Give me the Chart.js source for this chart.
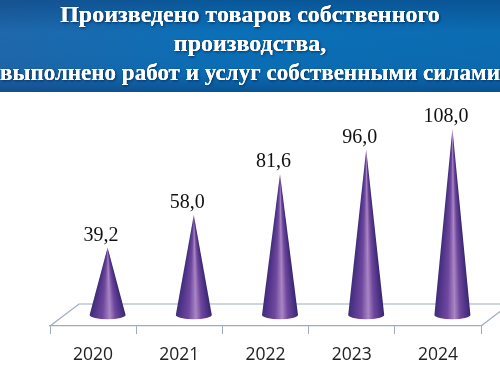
<!DOCTYPE html>
<html><head><meta charset="utf-8">
<style>html,body{margin:0;padding:0;background:#fff}#w{width:500px;height:377px;position:relative}</style>
<script src="https://cdn.jsdelivr.net/npm/chart.js@4"></script></head>
<body><div id="w"><canvas id="c" width="500" height="377"></canvas></div>
<script>
const categories = ['2020','2021','2022','2023','2024'];
const values = [39.2,58.0,81.6,96.0,108.0];
const valueLabels = ['39,2','58,0','81,6','96,0','108,0'];
const titleLines = ['Произведено товаров собственного','производства,','выполнено работ и услуг собственными силами'];

const depthX = 14.5, depthY = 11, floorDepthX = 29, floorDepthY = 22;
const floorColor = '#9eabbd';

function coneGradient(ctx,cx,r){
  const g = ctx.createLinearGradient(cx-r,0,cx+r,0);
  g.addColorStop(0,'#3f2d78'); g.addColorStop(.14,'#53368c'); g.addColorStop(.36,'#70489f');
  g.addColorStop(.56,'#a986c4'); g.addColorStop(.72,'#6f479c'); g.addColorStop(.9,'#4c3186'); g.addColorStop(1,'#38286c');
  return g;
}

const scene = {
  id:'scene',
  beforeDraw(chart){
    const {ctx,width} = chart;
    ctx.save();
    const h = ctx.createLinearGradient(0,0,width,0);
    h.addColorStop(0,'#1f68ab'); h.addColorStop(.45,'#0a70b8'); h.addColorStop(1,'#0c6cb2');
    ctx.fillStyle = h; ctx.fillRect(0,0,width,92);
    const v = ctx.createLinearGradient(0,0,0,92);
    v.addColorStop(0,'rgba(5,40,95,.35)'); v.addColorStop(.35,'rgba(5,40,95,0)');
    v.addColorStop(.8,'rgba(5,40,95,.05)'); v.addColorStop(1,'rgba(5,40,95,.4)');
    ctx.fillStyle = v; ctx.fillRect(0,0,width,92);
    ctx.shadowColor='rgba(0,25,70,.8)'; ctx.shadowBlur=3; ctx.shadowOffsetX=1; ctx.shadowOffsetY=1;
    chart.titleBlock.draw();
    ctx.restore();
  },
  beforeDatasetsDraw(chart){
    const {ctx,chartArea:a} = chart;
    ctx.save();
    ctx.strokeStyle=floorColor; ctx.lineWidth=1.2;
    ctx.beginPath();
    ctx.moveTo(a.left,a.bottom); ctx.lineTo(a.left+floorDepthX,a.bottom-floorDepthY); ctx.lineTo(a.right+floorDepthX,a.bottom-floorDepthY);
    ctx.lineTo(a.right,a.bottom);
    ctx.stroke();
    ctx.restore();
  },
  afterDatasetsDraw(chart){
    const {ctx} = chart;
    chart.getDatasetMeta(0).data.forEach((bar,i)=>{
      const cx = bar.x+depthX, tip = bar.y-depthY, base = bar.base-depthY, r = bar.width/2, ry = 4.2;
      ctx.save();
      ctx.beginPath();
      ctx.moveTo(cx,tip);
      ctx.lineTo(cx+r,base);
      ctx.ellipse(cx,base,r,ry,0,0,Math.PI);
      ctx.closePath(); ctx.clip();
      for(let y=Math.floor(tip);y<base+ry+1;y++){
        const ry2 = Math.max(1.2,r*Math.min(1,(y-tip)/(base-tip)));
        ctx.fillStyle = coneGradient(ctx,cx,ry2);
        ctx.fillRect(cx-r-1,y,2*r+2,1);
      }
      ctx.restore();
      ctx.save();
      ctx.fillStyle='#111';
      ctx.font='20px "Liberation Serif"'; ctx.textAlign='center'; ctx.textBaseline='middle';
      ctx.fillText(valueLabels[i],cx-6.5,tip-12);
      ctx.restore();
    });
  }
};

new Chart(document.getElementById('c'),{
  type:'bar',
  data:{labels:categories,datasets:[{data:values,backgroundColor:'rgba(0,0,0,0)',barThickness:36}]},
  plugins:[scene],
  options:{
    responsive:false,animation:false,
    layout:{padding:0},
    plugins:{
      legend:{display:false},tooltip:{enabled:false},
      title:{display:true,text:titleLines,color:'#fff',
        font:{family:'"Liberation Serif"',size:24,weight:'bold',lineHeight:29/24},
        padding:{top:1,bottom:31}}
    },
    scales:{
      x:{
        grid:{offset:true,drawOnChartArea:false,drawTicks:true,tickLength:8,color:floorColor,lineWidth:1},
        border:{color:floorColor,width:1.2},
        ticks:{color:'#222',font:{family:'"Open Sans"',size:17.5},padding:11,maxRotation:0},
        afterFit(s){s.height=51;}
      },
      y:{min:0,max:120,ticks:{display:false},grid:{display:false},border:{display:false},afterFit(s){s.width=50;}},
      yRight:{position:'right',ticks:{display:false},grid:{display:false},border:{display:false},afterFit(s){s.width=19;}}
    }
  }
});
</script></body></html>
